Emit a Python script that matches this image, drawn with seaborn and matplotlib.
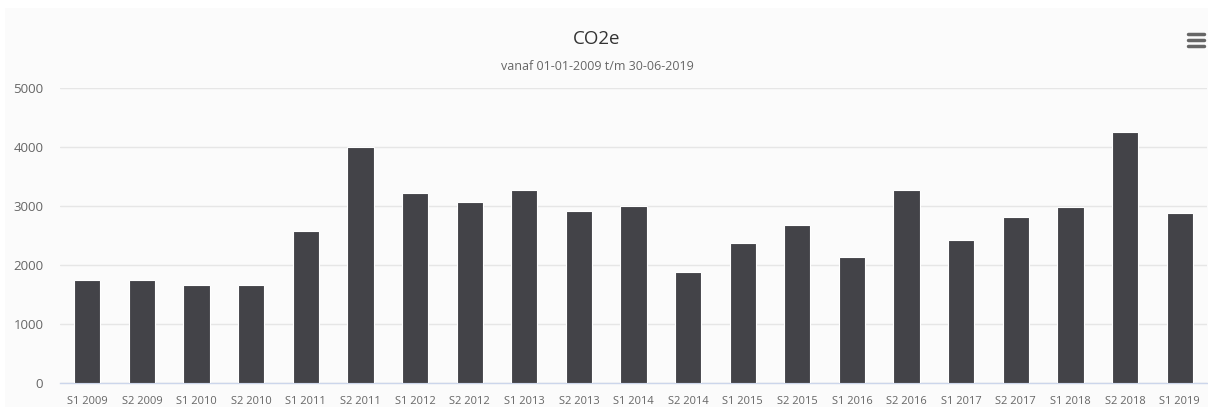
import matplotlib
matplotlib.use("Agg")
import matplotlib.pyplot as plt
import seaborn as sns
import pandas as pd
import numpy as np
from matplotlib.patches import Rectangle
from matplotlib.lines import Line2D

periods = ["S1 2009", "S2 2009", "S1 2010", "S2 2010", "S1 2011", "S2 2011",
           "S1 2012", "S2 2012", "S1 2013", "S2 2013", "S1 2014", "S2 2014",
           "S1 2015", "S2 2015", "S1 2016", "S2 2016", "S1 2017", "S2 2017",
           "S1 2018", "S2 2018", "S1 2019"]
co2e = [1752, 1752, 1660, 1660, 2585, 4005,
        3219, 3066, 3265, 2913, 3010, 1888,
        2374, 2680, 2143, 3276, 2432, 2816,
        2993, 4262, 2891]

df = pd.DataFrame({"periode": periods, "co2e": co2e})

sns.set_style("white")
plt.rcParams["font.family"] = ["Open Sans", "DejaVu Sans"]

fig = plt.figure(figsize=(12.08, 4.07), dpi=100, facecolor="white")
# chart background
fig.add_artist(Rectangle((5 / 1208, 0), 1, (407 - 8) / 407, transform=fig.transFigure,
                         facecolor="#fbfbfb", edgecolor="none", zorder=0))

ax = fig.add_axes([60 / 1208, (407 - 383.3) / 407, 1147 / 1208, (383.3 - 88) / 407])
ax.set_facecolor("none")

sns.barplot(data=df, x="periode", y="co2e", color="#434348", width=0.48,
            edgecolor="#ffffff", linewidth=0.8, saturation=1, ax=ax, zorder=3)

ax.set_ylim(0, 5000)
ax.set_xlim(-0.5, len(periods) - 0.5)
ax.set_yticks(range(0, 5001, 1000))
ax.yaxis.grid(True, color="#e6e6e6", linewidth=1, zorder=0)
ax.set_axisbelow(True)

for s in ["top", "right", "left"]:
    ax.spines[s].set_visible(False)
ax.spines["bottom"].set_color("#ccd6eb")
ax.spines["bottom"].set_linewidth(1)

ax.set_xlabel("")
ax.set_ylabel("")
ax.tick_params(axis="y", length=0, pad=12, labelsize=9.5, labelcolor="#666666")
ax.tick_params(axis="x", which="major", length=0, pad=9, labelsize=8, labelcolor="#666666")
ax.set_xticks(np.arange(-0.5, len(periods) + 0.5, 1), minor=True)
ax.tick_params(axis="x", which="minor", length=7, width=1, color="#ccd6eb")

fig.text(597 / 1208, 1 - 39 / 407, "CO2e", ha="center", va="center",
         fontsize=13.5, color="#333333")
fig.text(597 / 1208, 1 - 66 / 407, "vanaf 01-01-2009 t/m 30-06-2019", ha="center",
         va="center", fontsize=9, color="#666666")

# menu icon
for yy in [34, 40, 46]:
    fig.add_artist(Line2D([1188 / 1208, 1204 / 1208], [1 - yy / 407, 1 - yy / 407],
                          transform=fig.transFigure, color="#666666", linewidth=2.5,
                          solid_capstyle="round"))

fig.savefig("out.png", dpi=100, facecolor=fig.get_facecolor())
